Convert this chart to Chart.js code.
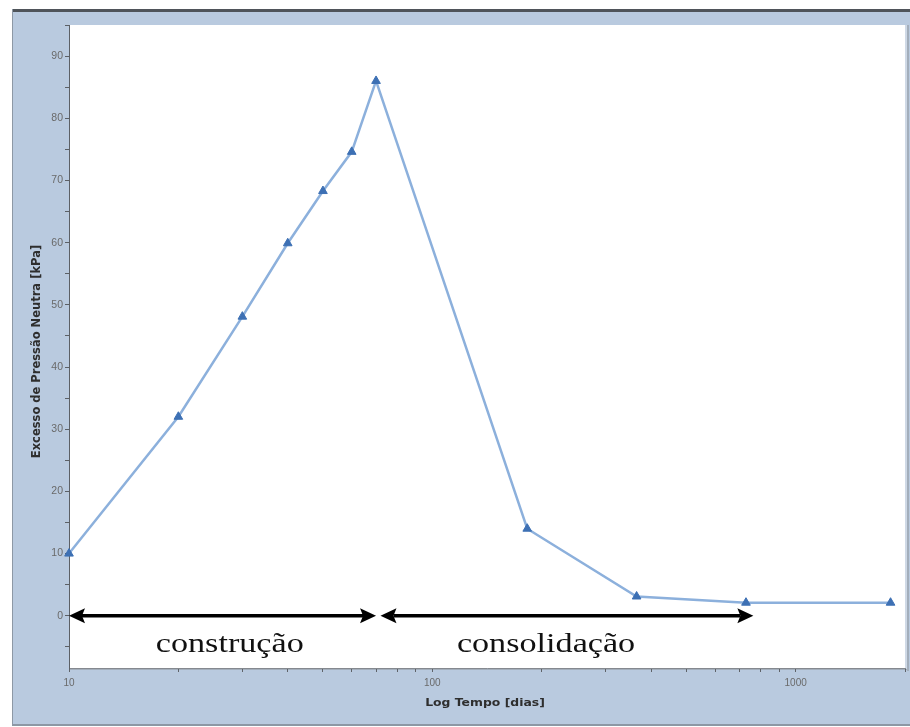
<!DOCTYPE html>
<html>
<head>
<meta charset="utf-8">
<script src="https://cdn.jsdelivr.net/npm/chart.js@4.4.1/dist/chart.umd.min.js"></script>
<style>
  html, body { margin: 0; padding: 0; background: #ffffff; }
  canvas { display: block; }
</style>
</head>
<body>
<canvas id="chart" width="910" height="727"></canvas>
<script>
// Excess pore pressure over time (log scale)
const days = [10, 20, 30, 40, 50, 60, 70, 182.5, 365, 730, 1825];
const excessPressure = [10, 32, 48.1, 59.9, 68.3, 74.6, 86, 14, 3.1, 2.1, 2.1];

// Axis tick labels
const xLabelValues = [10, 100, 1000];
const yStep = 5;
const yLabelStep = 10;

// Phase annotations: double-headed arrows along the zero line
const phaseNames = ['construção', 'consolidação'];
const phaseStart = [10, 72];
const phaseEnd = [70, 765];
const phaseLabelAt = [27.7, 205.6];
const phaseLevel = 0;

const xTitle = 'Log Tempo [dias]';
const yTitle = 'Excesso de Pressão Neutra [kPa]';

// Panel background, frame and plot area
const framePlugin = {
  id: 'frame',
  beforeDraw(chart) {
    const ctx = chart.ctx;
    const a = chart.chartArea;
    ctx.save();
    ctx.fillStyle = '#ffffff';
    ctx.fillRect(0, 0, chart.width, chart.height);
    ctx.fillStyle = '#b9cadf';
    ctx.fillRect(12, 10, chart.width - 12, 716);
    ctx.fillStyle = '#4f545a';
    ctx.fillRect(12, 9, chart.width - 12, 3);
    ctx.fillStyle = '#8d98a5';
    ctx.fillRect(12, 9, 1, 717);
    ctx.fillRect(12, 724, chart.width - 12, 2);
    ctx.fillStyle = '#ffffff';
    ctx.fillRect(a.left, a.top, a.right - a.left, a.bottom - a.top);
    ctx.fillStyle = '#cfd9e6';
    ctx.fillRect(a.right, a.top, 2, a.bottom - a.top + 2);
    ctx.fillStyle = '#a3aebb';
    ctx.fillRect(a.right + 2, a.top, 2, a.bottom - a.top + 3);
    ctx.fillRect(a.left, a.bottom + 1, a.right - a.left + 2, 1);
    ctx.restore();
  }
};

// Axis titles (horizontally widened text, as in the original panel)
const titlesPlugin = {
  id: 'titles',
  afterDraw(chart) {
    const ctx = chart.ctx;
    const a = chart.chartArea;
    ctx.save();
    ctx.fillStyle = '#2e2e2e';
    ctx.textAlign = 'center';
    ctx.textBaseline = 'middle';
    ctx.save();
    ctx.font = 'bold 10px "DejaVu Sans"';
    ctx.translate((a.left + a.right) / 2 - 2, 703);
    ctx.scale(1.24, 1);
    ctx.fillText(xTitle, 0, 0);
    ctx.restore();
    ctx.save();
    ctx.font = 'bold 11.5px "DejaVu Sans"';
    ctx.translate(37, (a.top + a.bottom) / 2 + 5);
    ctx.rotate(-Math.PI / 2);
    ctx.fillText(yTitle, 0, 0);
    ctx.restore();
    ctx.restore();
  }
};

// Phase arrows and their captions
const phasePlugin = {
  id: 'phases',
  afterDatasetsDraw(chart) {
    const ctx = chart.ctx;
    const xs = chart.scales.x;
    const ys = chart.scales.y;
    const y = ys.getPixelForValue(phaseLevel);
    const headLen = 16, headHalf = 7.5, notch = 3;
    ctx.save();
    ctx.fillStyle = '#000000';
    ctx.strokeStyle = '#000000';
    ctx.lineWidth = 3.5;
    for (let i = 0; i < phaseNames.length; i++) {
      const x1 = xs.getPixelForValue(phaseStart[i]);
      const x2 = xs.getPixelForValue(phaseEnd[i]);
      ctx.beginPath();
      ctx.moveTo(x1 + headLen - notch, y);
      ctx.lineTo(x2 - headLen + notch, y);
      ctx.stroke();
      ctx.beginPath();
      ctx.moveTo(x1, y);
      ctx.lineTo(x1 + headLen, y - headHalf);
      ctx.lineTo(x1 + headLen - notch, y);
      ctx.lineTo(x1 + headLen, y + headHalf);
      ctx.closePath();
      ctx.fill();
      ctx.beginPath();
      ctx.moveTo(x2, y);
      ctx.lineTo(x2 - headLen, y - headHalf);
      ctx.lineTo(x2 - headLen + notch, y);
      ctx.lineTo(x2 - headLen, y + headHalf);
      ctx.closePath();
      ctx.fill();

      const lx = xs.getPixelForValue(phaseLabelAt[i]);
      ctx.save();
      ctx.font = '28px "Liberation Serif"';
      ctx.fillStyle = '#111111';
      ctx.textAlign = 'center';
      ctx.textBaseline = 'alphabetic';
      ctx.translate(lx, y + 36);
      ctx.scale(1.22, 1);
      ctx.fillText(phaseNames[i], 0, 0);
      ctx.restore();
    }
    ctx.restore();
  }
};

const ctx = document.getElementById('chart').getContext('2d');
new Chart(ctx, {
  type: 'line',
  data: {
    datasets: [{
      data: days.map((d, i) => ({ x: d, y: excessPressure[i] })),
      borderColor: '#8cb0dc',
      borderWidth: 2.5,
      pointStyle: 'triangle',
      pointRadius: 5,
      pointBackgroundColor: '#3d70b4',
      pointBorderColor: '#3d70b4',
      pointBorderWidth: 1,
      tension: 0,
      clip: false
    }]
  },
  options: {
    responsive: false,
    animation: false,
    events: [],
    layout: { autoPadding: false, padding: { left: 0, top: 25, right: 5, bottom: 0 } },
    plugins: { legend: { display: false }, tooltip: { enabled: false }, title: { display: false } },
    scales: {
      x: {
        type: 'logarithmic',
        min: 10,
        max: 2000,
        afterFit(scale) { scale.height = 59; },
        afterBuildTicks(scale) {
          const t = [];
          for (let p = 10; p <= 1000; p *= 10) {
            for (let m = 1; m <= 9; m++) {
              const v = m * p;
              if (v <= scale.max) t.push({ value: v });
            }
          }
          scale.ticks = t;
        },
        border: { display: true, color: '#85898f', width: 1 },
        grid: { display: true, drawOnChartArea: false, drawTicks: true, tickLength: 4, color: '#5f6369' },
        ticks: {
          autoSkip: false,
          maxRotation: 0,
          padding: 5,
          color: '#6a6a6a',
          font: { family: '"Liberation Sans"', size: 10 },
          callback: (v) => xLabelValues.includes(v) ? String(v) : ''
        }
      },
      y: {
        type: 'linear',
        min: -8.4,
        max: 95,
        afterFit(scale) { scale.width = 69; },
        afterBuildTicks(scale) {
          scale.ticks = scale.ticks.filter(t => Math.abs(t.value % yStep) < 1e-9);
        },
        border: { display: true, color: '#5c6066', width: 1 },
        grid: { display: true, drawOnChartArea: false, drawTicks: true, tickLength: 4, color: '#5c6066' },
        ticks: {
          stepSize: yStep,
          padding: 2,
          color: '#6a6a6a',
          font: { family: '"Liberation Sans"', size: 10.5 },
          callback: (v) => (Math.abs(v % yLabelStep) < 1e-9) ? String(v) : ''
        }
      }
    }
  },
  plugins: [framePlugin, phasePlugin, titlesPlugin]
});
</script>
</body>
</html>
